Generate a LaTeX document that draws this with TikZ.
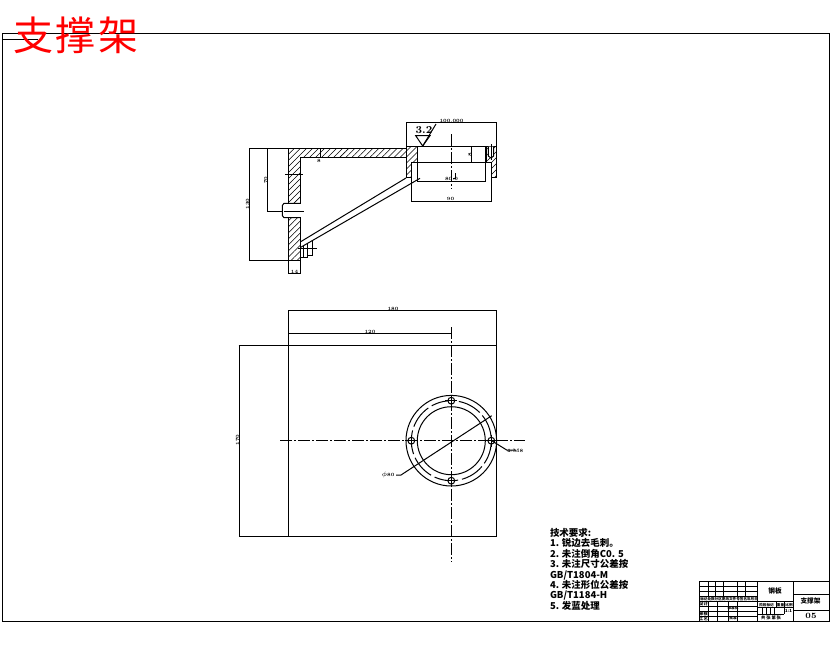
\documentclass[tikz,border=0pt]{standalone}
\usepackage{fontspec}
\usetikzlibrary{patterns.meta}
\newfontfamily\cjk{Noto Sans CJK SC}
\newfontfamily\cjktitle[LetterSpace=7]{Noto Sans CJK SC}
\tikzset{every picture/.style={line width=0.75pt}}
\tikzset{
  hatchfill/.style={pattern={Lines[angle=45,distance=3.2pt,line width=0.4pt]}},
  centerline/.style={dash pattern={on 9pt off 1.5pt on 1.5pt off 1.5pt}},
  dimtext/.style={inner sep=0pt,font=\fontsize{3.6}{3.6}\selectfont\bfseries},
  celltext/.style={inner sep=0pt,font=\cjk\fontsize{3.2}{3.2}\selectfont\bfseries},
  rowtext/.style={inner sep=0pt,font=\cjk\fontsize{2.7}{2.7}\selectfont\bfseries},
}

\begin{document}
\begin{tikzpicture}[x=0.75pt,y=0.75pt,yscale=-1,xscale=1]
	\useasboundingbox (0,0) rectangle (830,654);

	%Frame
	\draw (2.5,33.5) rectangle (829,621);
	\draw (2.5,39.5) -- (38,39.5);

	%Shape: hatched wall and arm
	\draw [hatchfill] (288.3,203.3) -- (288.3,148.7) -- (406,148.7) -- (406,157.7) -- (300.7,157.7) -- (300.7,203.3) -- cycle;
	\draw [hatchfill] (288.3,217.7) -- (300.7,217.7) -- (300.7,260.7) -- (288.3,260.7) -- cycle;
	%Shape: hatched ring
	\draw [hatchfill] (406,146.7) -- (417.7,146.7) -- (417.7,162.3) -- (411.7,162.3) -- (411.7,177.7) -- (406,177.7) -- cycle;
	\draw [hatchfill] (486,146.7) -- (496.7,146.7) -- (496.7,177.7) -- (491.7,177.7) -- (491.7,162.3) -- (486,162.3) -- cycle;
	\draw [fill=white] (488.3,146.7) -- (488.3,156) -- (491,158) -- (493.7,156) -- (493.7,146.7);
	\draw (417.7,146.7) -- (486,146.7);
	\draw (411.7,162.3) -- (491.7,162.3);
	\draw (411.7,177.7) -- (411.7,162.3);
	\draw (491,144) -- (491,160);

	%Straight Lines: brace
	\draw (406,178) -- (300.7,241.7);
	\draw (420,178.3) -- (300.7,247.3);

	%Shape: bolts in the wall
	\draw (300.7,203.3) -- (284,203.3) -- (282.3,205.5) -- (282.3,215.5) -- (284,217.7) -- (300.7,217.7);
	\draw (284,211) -- (304,211);
	\draw (285,174) -- (302.7,174);
	\draw (303,246) -- (303,257.5);
	\draw (300.7,257.5) -- (307.8,257.5) -- (307.8,243.2);
	\draw (307.8,255.5) -- (312.7,255.5) -- (312.7,240.4);
	\draw (298,248.3) -- (317,248.3);

	%Straight Lines: dimensions of the upper view
	\draw (288.3,148.7) -- (249,148.7) -- (249,260.7) -- (288.3,260.7);
	\draw (267.3,148.7) -- (267.3,211) -- (282.3,211);
	\draw (288.3,260.7) -- (288.3,273.3) -- (300.7,273.3) -- (300.7,260.7);
	\draw (320.7,148.7) -- (320.7,157.7);
	\draw (406,146.7) -- (406,122.7) -- (496.7,122.7) -- (496.7,146.7);
	\draw (417.7,146.7) -- (417.7,181.3) -- (485.7,181.3) -- (485.7,146.7);
	\draw (411.7,177.7) -- (411.7,201) -- (491.7,201) -- (491.7,177.7);
	\draw (471.3,146.7) -- (471.3,162.3);
	\draw (455.5,173) -- (455.5,178) -- (453,178);
	\draw [centerline] (451.3,134) -- (451.3,189);

	%Shape: roughness mark
	\draw (415.7,135.7) -- (430,135.7) -- (422.7,146) -- cycle;
	\draw (422.7,146) -- (436,124);

	%Shape: plate of the lower view
	\draw (288.3,310) rectangle (496.7,536);
	\draw (238.7,345.3) -- (496.7,345.3);
	\draw (239.3,345.3) -- (239.3,536) -- (288.3,536);
	\draw (288.3,333.3) -- (451.3,333.3);
	\draw [centerline] (451.3,327) -- (451.3,562);
	\draw [centerline] (280,440.7) -- (525,440.7);

	%Shape: Circle
	\draw (451.3,440.7) circle [radius=45.3];
	\draw (451.3,440.7) circle [radius=34];
	\draw [dash pattern={on 18pt off 3pt}] (451.3,440.7) circle [radius=40];
	\foreach \holex/\holey in {451.3/400.7, 491.3/440.7, 451.3/480.7, 411.3/440.7}{
		\draw [fill=white] (\holex,\holey) circle [radius=3.4];
		\draw (\holex-6,\holey) -- (\holex+6,\holey);
		\draw (\holex,\holey-6) -- (\holex,\holey+6);
	}
	%Straight Lines: leaders
	\draw (396,475) -- (401,475) -- (491.7,415.7);
	\draw (491.7,440.7) -- (506.7,450) -- (516,450);

	%Title block
	\draw (699.3,581.7) rectangle (829,621);
	\foreach \rowy in {586.7,591.7,596.7,601.7,606,611,616}{
		\draw (699.3,\rowy) -- (757.7,\rowy);
	}
	\foreach \colx in {708,715,723.3,737.3,745}{
		\draw (\colx,581.7) -- (\colx,596.7);
	}
	\foreach \colx in {708.3,717.3,728.3,737.3}{
		\draw (\colx,601.7) -- (\colx,621);
	}
	\draw (757.7,581.7) -- (757.7,621);
	\draw (793.3,581.7) -- (793.3,621);
	\draw (757.7,601.7) -- (793.3,601.7);
	\draw (757.7,607.7) -- (793.3,607.7);
	\draw (757.7,614.3) -- (784.3,614.3);
	\draw (793.3,594) -- (829,594);
	\draw (793.3,610.7) -- (829,610.7);
	\foreach \colx in {762,766,770.3,774.7}{
		\draw (\colx,607.7) -- (\colx,614.3);
	}
	\draw (776.7,601.7) -- (776.7,607.7);
	\draw (784.3,601.7) -- (784.3,614.3);

	% Text Node
	\node [inner sep=0pt,text=red,font=\cjktitle\fontsize{30}{30}\selectfont] (titlemark) at (76,35.5) {支撑架};
	% Text Node
	\node [inner sep=0pt,anchor=north west,align=left,font=\cjk\fontsize{7.1}{7.85}\selectfont\bfseries] (techreq) at (549.5,527.5) {技术要求:\\1. 锐边去毛刺。\\2. 未注倒角C0. 5\\3. 未注尺寸公差按\\GB/T1804-M\\4. 未注形位公差按\\GB/T1184-H\\5. 发蓝处理};
	% Text Node
	\node [dimtext] (rough) at (424,130) {\fontsize{8}{8}\selectfont 3.2};
	\node [dimtext] (dimtop) at (451.5,121) {100.000};
	\node [dimtext] (dimbore) at (451.5,179.2) {80.0};
	\node [dimtext] (dimstep) at (450.5,199) {90};
	\node [dimtext,rotate=90] (dimdepth) at (469.8,155) {8};
	\node [dimtext,rotate=90] (dimheight) at (247.5,204) {130};
	\node [dimtext,rotate=90] (dimbolt) at (265.7,180) {70};
	\node [dimtext] (dimwall) at (294.5,271.5) {14};
	\node [dimtext] (dimarm) at (319,160.5) {8};
	\node [dimtext] (dimwidth) at (393,309) {180};
	\node [dimtext] (dimcenter) at (370,332) {120};
	\node [dimtext,rotate=90] (dimplate) at (237.5,440) {170};
	\node [dimtext] (dimcircle) at (388,474.5) {$\phi$80};
	\node [dimtext] (dimhole) at (515,450.5) {4-M8};
	% Text Node
	\node [rowtext] (stage) at (766.5,604.8) {阶段标记};
	\node [rowtext] (weight) at (780.5,604.8) {重量};
	\node [rowtext] (ratio) at (789,604.8) {比例};
	\node [celltext] (sheets) at (771,617.5) {共 张 第 张};
	\node [celltext] (scale) at (788.5,611) {1:1};
	\node [rowtext,anchor=west] (revrow) at (699.8,599.2) {标记处数分区更改文件号签名年月日};
	\node [celltext] (design) at (703.5,603.8) {设计};
	\node [celltext] (check) at (703.5,613.5) {审核};
	\node [celltext] (craft) at (703.5,618.5) {工艺};
	\node [rowtext] (standard) at (733,608.5) {标准化};
	\node [rowtext] (approve) at (733,618.5) {批准};
	\node [inner sep=0pt,font=\cjk\fontsize{5}{5}\selectfont\bfseries] (material) at (775,590.7) {钢板};
	\node [inner sep=0pt,font=\cjk\fontsize{5}{5}\selectfont\bfseries] (partname) at (810.5,600.7) {支撑架};
	\node [inner sep=0pt,font=\fontsize{6}{6}\selectfont\bfseries] (partno) at (811,615.5) {05};

\end{tikzpicture}
\end{document}
